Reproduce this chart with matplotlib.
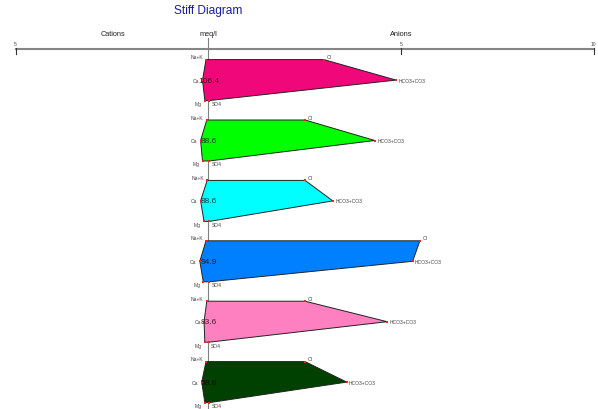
"""Stiff diagram of six water samples: cations to the left, anions to the right (meq/l)."""

from __future__ import annotations

import matplotlib

matplotlib.use("Agg")
import matplotlib.pyplot as plt
from matplotlib.patches import Polygon

plt.rcParams["font.family"] = ["Liberation Sans", "DejaVu Sans"]

# Concentrations in meq/l, one entry per sample (top to bottom)
sample_labels = ["106.4", "88.6", "88.6", "94.9", "83.6", "58.6"]
na_k = [0.06, 0.04, 0.03, 0.06, 0.04, 0.06]
ca = [0.15, 0.20, 0.20, 0.22, 0.11, 0.17]
mg = [0.09, 0.15, 0.11, 0.13, 0.09, 0.09]
cl = [3.00, 2.51, 2.51, 5.49, 2.51, 2.51]
hco3_co3 = [4.87, 4.32, 3.23, 5.30, 4.64, 3.59]
so4 = [0.02, 0.02, 0.03, 0.02, 0.01, 0.03]
fill_colors = ["#F0087A", "#00FF00", "#00FFFF", "#0080FF", "#FF80C0", "#004000"]

cation_names = ["Na+K", "Ca", "Mg"]
anion_names = ["Cl", "HCO3+CO3", "SO4"]
scale_ticks = [-5, 5, 10]
scale_tick_labels = ["5", "5", "10"]

W, H = 598, 410
PX_PER_UNIT = 38.55
X_ZERO = 208.3          # pixel column of 0 meq/l
AXIS_Y = 50             # pixel row of the scale bar
FIRST_ROW = 60.6        # pixel row of the first Na+K / Cl row
PITCH = 60.4            # vertical distance between samples
ROW_GAP = 20.5          # distance between ion rows in one sample


def _label_color(color: str) -> tuple[float, float, float]:
    # dark shade of the fill so the total reads on top of it
    r, g, b = matplotlib.colors.to_rgb(color)
    k = 0.25
    return (r * k, g * k, b * k)


def main() -> None:
    fig = plt.figure(figsize=(W / 100, H / 100), dpi=100)
    ax = fig.add_axes((0, 0, 1, 1))
    ax.set_xlim(-X_ZERO / PX_PER_UNIT, (W - X_ZERO) / PX_PER_UNIT)
    ax.set_ylim(H, 0)
    ax.set_axis_off()

    ax.text(0, 11, "Stiff Diagram", color="#1a1aa0", fontsize=8.6,
            ha="center", va="center")
    ax.text(-2.47, 34.5, "Cations", fontsize=5.3, color="#222", ha="center", va="center")
    ax.text(0, 34.5, "meq/l", fontsize=5.3, color="#222", ha="center", va="center")
    ax.text(5.0, 34.5, "Anions", fontsize=5.3, color="#222", ha="center", va="center")

    # scale bar with end ticks
    ax.plot([scale_ticks[0], scale_ticks[-1]], [AXIS_Y, AXIS_Y], color="#858585", lw=1.5, zorder=1)
    for t, lab in zip(scale_ticks, scale_tick_labels):
        ax.plot([t, t], [AXIS_Y - 1, AXIS_Y + 5], color="#333", lw=0.8, zorder=2)
        ax.text(t, AXIS_Y - 6, lab, fontsize=3.6, color="#444", ha="center", va="center")

    # centre line
    ax.plot([0, 0], [38.5, H], color="#808080", lw=0.8, zorder=1)

    for i, lab in enumerate(sample_labels):
        ys = [FIRST_ROW + i * PITCH + j * ROW_GAP for j in range(3)]
        left = [-na_k[i], -ca[i], -mg[i]]
        right = [cl[i], hco3_co3[i], so4[i]]
        pts = [(right[j], ys[j]) for j in range(3)] + [(left[j], ys[j]) for j in (2, 1, 0)]
        ax.add_patch(Polygon(pts, closed=True, facecolor=fill_colors[i],
                             edgecolor="#222", lw=0.7, zorder=3))
        ax.scatter([p[0] for p in pts], [p[1] for p in pts], marker="s", s=4,
                   color="#ff2020", lw=0, zorder=4)

        offs = [-3, 0, 3]
        for j in range(3):
            ax.text(left[j] - 0.08, ys[j] + offs[j], cation_names[j], fontsize=3.6,
                    color="#444", ha="right", va="center", zorder=5)
            ax.text(right[j] + 0.06, ys[j] + offs[j], anion_names[j], fontsize=3.6,
                    color="#444", ha="left", va="center", zorder=5)

        ax.text(0.02, ys[1], lab, fontsize=6, color=_label_color(fill_colors[i]),
                ha="center", va="center", zorder=6)

    fig.savefig("out.png", dpi=100, facecolor="white")


if __name__ == "__main__":
    main()
